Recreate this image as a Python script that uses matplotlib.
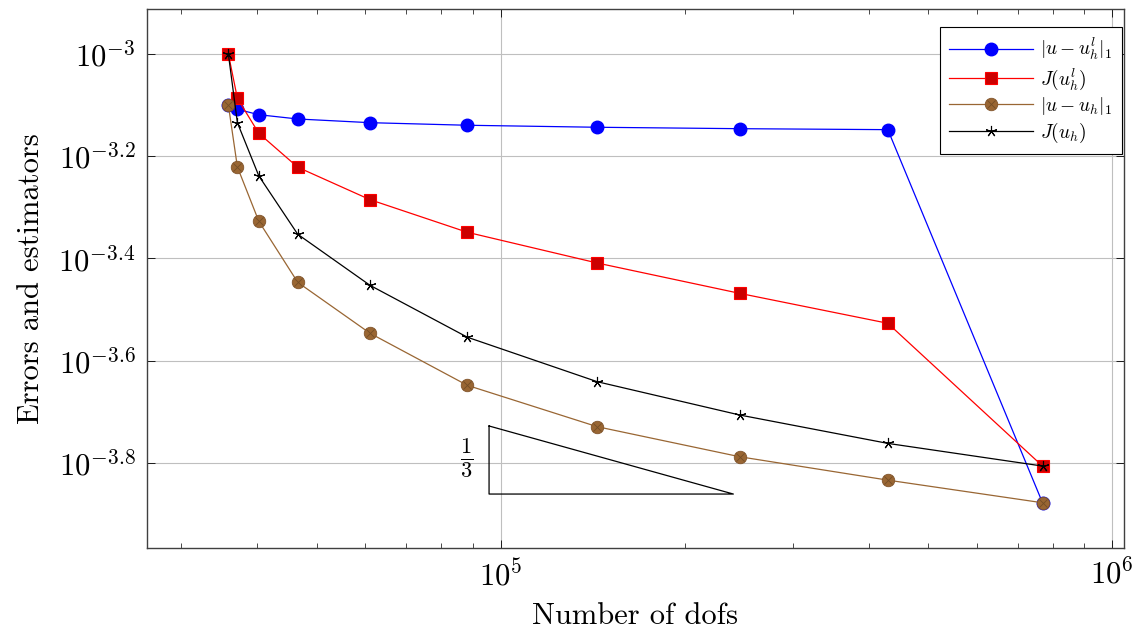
import numpy as np
import matplotlib
matplotlib.use('Agg')
import matplotlib.pyplot as plt
from matplotlib.ticker import FixedLocator, FuncFormatter, LogLocator, NullLocator
from matplotlib.legend_handler import HandlerTuple

plt.rcParams['font.family'] = 'serif'
plt.rcParams['font.serif'] = ['cmr10', 'DejaVu Serif']
plt.rcParams['mathtext.fontset'] = 'cm'
plt.rcParams['axes.formatter.use_mathtext'] = True

# number of dofs per refinement level
dofs = [35860, 37100, 40220, 46570, 61140, 88200, 143850, 245900, 429500, 769000]

# |u - u_h^l|_1
err_l = [7.947e-4, 7.795e-4, 7.606e-4, 7.461e-4, 7.338e-4, 7.253e-4, 7.188e-4, 7.142e-4, 7.111e-4, 1.324e-4]
# J(u_h^l)
est_l = [1.0e-3, 8.190e-4, 6.995e-4, 6.003e-4, 5.187e-4, 4.478e-4, 3.899e-4, 3.401e-4, 2.972e-4, 1.562e-4]
# |u - u_h|_1
err_h = [7.947e-4, 6.011e-4, 4.705e-4, 3.574e-4, 2.841e-4, 2.247e-4, 1.865e-4, 1.629e-4, 1.466e-4, 1.324e-4]
# J(u_h)
est_h = [1.0e-3, 7.338e-4, 5.773e-4, 4.438e-4, 3.526e-4, 2.791e-4, 2.284e-4, 1.966e-4, 1.730e-4, 1.562e-4]

ytick_exp = [-3.0, -3.2, -3.4, -3.6, -3.8]

# slope triangle
tri_x = [95700, 240100]
tri_y0 = 1.377e-4
tri_slope = 1.0 / 3.0

brown = (0.6, 0.4, 0.2)

fig = plt.figure(figsize=(11.47, 6.34), dpi=100)
ax = fig.add_axes([0.128, 0.1356, 0.8517, 0.8502])

l1, = ax.plot(dofs, err_l, '-o', color='blue', lw=0.9, ms=9, mfc='blue', mec='blue')
l2, = ax.plot(dofs, est_l, '-s', color='red', lw=0.9, ms=8.5, mfc=(0.8, 0, 0), mec='red', mew=0.8)
l3, = ax.plot(dofs, err_h, '-o', color=brown, lw=0.9, ms=9, mfc=brown, mec=(0.5, 0.33, 0.17), mew=0.6)
l3x, = ax.plot(dofs, err_h, 'x', color=(0.45, 0.3, 0.15), ms=6, mew=0.6)
l4, = ax.plot(dofs, est_h, '-', color='black', lw=0.9, marker=(5, 2, 0), ms=8, mec='black', mew=0.8)

# triangle
ty1 = tri_y0 * (tri_x[1] / tri_x[0]) ** tri_slope
ax.plot([tri_x[0], tri_x[0], tri_x[1], tri_x[0]], [ty1, tri_y0, tri_y0, ty1], color='black', lw=0.9)
ax.text(88000, 1.62e-4, r'$\frac{1}{3}$', fontsize=23, ha='center', va='center')

ax.set_xscale('log')
ax.set_yscale('log')
ax.set_xlim(26380, 1.044e6)
ax.set_ylim(10 ** -3.9667, 10 ** -2.912)

ax.yaxis.set_major_locator(FixedLocator([10 ** e for e in ytick_exp]))
ax.yaxis.set_major_formatter(FuncFormatter(lambda v, p: r'$10^{%g}$' % round(np.log10(v), 1)))
ax.yaxis.set_minor_locator(NullLocator())
ax.xaxis.set_major_locator(LogLocator(base=10))
ax.xaxis.set_minor_locator(LogLocator(base=10, subs=np.arange(2, 10)))

ax.tick_params(which='both', direction='in', top=True, right=True, labelsize=22, pad=8)
ax.tick_params(which='major', length=6, width=0.6)
ax.tick_params(which='minor', length=3.5, width=0.5)
ax.grid(True, which='major', color=(0.75, 0.75, 0.75), lw=0.8)
for s in ax.spines.values():
    s.set_linewidth(1.0)
    s.set_color((0.25, 0.25, 0.25))

ax.set_xlabel('Number of dofs', fontsize=22, labelpad=8)
ax.set_ylabel('Errors and estimators', fontsize=22, labelpad=10)

lgd = ax.legend([l1, l2, (l3, l3x), l4],
                [r'$|u-u_h^l|_1$', r'$J(u_h^l)$', r'$|u-u_h|_1$', r'$J(u_h)$'],
                handler_map={tuple: HandlerTuple(ndivide=1)},
                loc='upper right', bbox_to_anchor=(0.998, 0.967), borderaxespad=0,
                fontsize=14, fancybox=False, framealpha=1, edgecolor='black',
                handlelength=4.3, handletextpad=0.4, labelspacing=0.18, borderpad=0.45)
lgd.get_frame().set_linewidth(0.8)

plt.savefig('out.png', dpi=100)
